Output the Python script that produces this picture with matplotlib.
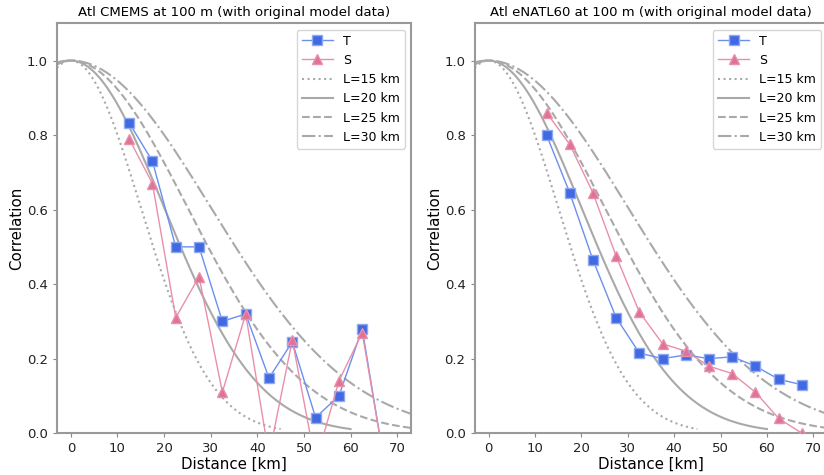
import numpy as np
import matplotlib
matplotlib.use('Agg')
import matplotlib.pyplot as plt

# lag distances [km]
dist = [12.5, 17.5, 22.5, 27.5, 32.5, 37.5, 42.5, 47.5, 52.5, 57.5, 62.5, 67.5]

# Atl CMEMS
cmems_t = [0.833, 0.73, 0.50, 0.50, 0.30, 0.32, 0.148, 0.245, 0.042, 0.10, 0.28, -0.10]
cmems_s = [0.79, 0.67, 0.31, 0.42, 0.11, 0.32, -0.06, 0.25, -0.08, 0.14, 0.27, -0.10]

# Atl eNATL60
enatl_t = [0.80, 0.645, 0.465, 0.31, 0.215, 0.20, 0.21, 0.20, 0.205, 0.18, 0.145, 0.13]
enatl_s = [0.86, 0.775, 0.645, 0.475, 0.325, 0.24, 0.22, 0.18, 0.16, 0.11, 0.04, 0.0]

# gaussian length scales [km]
scales = [15, 20, 25, 30]
scale_styles = [':', '-', '--', '-.']

titles = ['Atl CMEMS at 100 m (with original model data)',
          'Atl eNATL60 at 100 m (with original model data)']

x0 = -3


def panel(ax, t, s, title):
    ax.plot(dist, t, '-', color='#6a8ff0', lw=1, marker='s', ms=6.5,
            mfc='royalblue', mec='#8fa8f2', mew=1, label='T', zorder=3)
    ax.plot(dist, s, '-', color='#e890aa', lw=1, marker='^', ms=6.5,
            mfc='#e07296', mec='#e890aa', mew=1, label='S', zorder=3)
    for L, ls in zip(scales, scale_styles):
        x = np.linspace(x0, 3 * L, 300)
        ax.plot(x, np.exp(-x ** 2 / (2 * L ** 2)), ls, color='#a9a9a9',
                lw=1.5, label=f'L={L} km')
    ax.set_xlim(x0, 73)
    ax.set_ylim(0, 1.1)
    ax.set_xticks(range(0, 71, 10))
    ax.set_yticks([0.0, 0.2, 0.4, 0.6, 0.8, 1.0])
    ax.set_title(title, fontsize=9.5, pad=5)
    ax.set_xlabel('Distance [km]', fontsize=10.8, labelpad=1)
    ax.set_ylabel('Correlation', fontsize=10.8, labelpad=2)
    ax.tick_params(labelsize=9.5, colors='#222222', length=3, color='#888888')
    for sp in ax.spines.values():
        sp.set_color('#999999')
        sp.set_linewidth(1.5)
    ax.legend(loc='upper right', fontsize=9, handlelength=2.5,
              edgecolor='#cccccc', fancybox=True)


fig = plt.figure(figsize=(8.24, 4.75), dpi=100)
ax1 = fig.add_axes([0.069, 0.088, 0.430, 0.863])
ax2 = fig.add_axes([0.576, 0.088, 0.428, 0.863])
panel(ax1, cmems_t, cmems_s, titles[0])
panel(ax2, enatl_t, enatl_s, titles[1])

fig.savefig('out.png', dpi=100)
